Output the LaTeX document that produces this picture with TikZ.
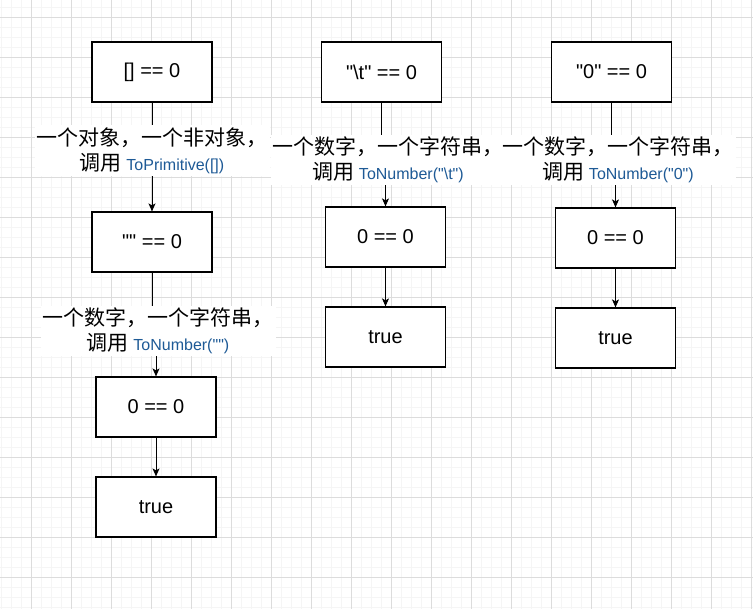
\documentclass[tikz,border=0pt]{standalone}
\usepackage{fontspec}
\setmainfont{Liberation Sans}[Ligatures=TeXOff]
\newfontfamily\cjk{Noto Sans CJK SC}
\usetikzlibrary{arrows.meta}
\definecolor{codeblue}{RGB}{30,90,150}
\definecolor{gridmajor}{RGB}{220,220,220}
\definecolor{gridminor}{RGB}{245,245,245}
\newcommand\codetxt[1]{{\rmfamily\color{codeblue}\fontsize{16}{25}\selectfont #1}}
\begin{document}
\begin{tikzpicture}[x=1pt,y=-1pt,
  box/.style={draw=black, line width=1.2pt, minimum width=120pt, minimum height=60pt,
    inner sep=0pt, font=\fontsize{20}{24}\selectfont, fill=white},
  conn/.style={line width=1pt, -{Stealth[length=8pt,width=7pt,inset=2pt]}},
  elabel/.style={fill=white, inner xsep=2pt, inner ysep=2pt, align=center,
    font=\cjk\fontsize{21}{25}\selectfont}
]
\useasboundingbox (0,0) rectangle (753,609);
\fill[white] (0,0) rectangle (753,609);
% grid
\foreach \i in {0,...,75} {\draw[gridminor, line width=0.8pt] ({1.7+10*\i},0) -- ({1.7+10*\i},609);}
\foreach \i in {0,...,60} {\draw[gridminor, line width=0.8pt] (0,{7.3+10*\i}) -- (753,{7.3+10*\i});}
\foreach \i in {0,...,18} {\draw[gridmajor, line width=1pt] ({31.7+40*\i},0) -- ({31.7+40*\i},609);}
\foreach \i in {0,...,14} {\draw[gridmajor, line width=1pt] (0,{17.3+40*\i}) -- (753,{17.3+40*\i});}

% boxes
\node[box] (b1) at (152,72) {[] == 0};
\node[box] (b2) at (152,242) {"" == 0};
\node[box] (b3) at (156,407) {0 == 0};
\node[box] (b4) at (156,507) {true};
\node[box] (b5) at (381.5,72) {"\textbackslash t" == 0};
\node[box] (b6) at (385.5,237) {0 == 0};
\node[box] (b7) at (385.5,337) {true};
\node[box] (b8) at (611.5,72) {"0" == 0};
\node[box] (b9) at (615.5,238) {0 == 0};
\node[box] (b10) at (615.5,338) {true};

% jog points
\coordinate (j1a) at (152,330);
\coordinate (j1b) at (156,330);
\coordinate (j2a) at (381.5,160);
\coordinate (j2b) at (385.5,160);
\coordinate (j3a) at (611.5,160);
\coordinate (j3b) at (615.5,160);

% connectors
\draw[conn] (b1.south) -- (b2.north);
\draw[conn] (b2.south) -- (j1a) -- (j1b) -- (b3.north);
\draw[conn] (b3.south) -- (b4.north);
\draw[conn] (b5.south) -- (j2a) -- (j2b) -- (b6.north);
\draw[conn] (b6.south) -- (b7.north);
\draw[conn] (b8.south) -- (j3a) -- (j3b) -- (b9.north);
\draw[conn] (b9.south) -- (b10.north);

% labels
\node[elabel] (l1) at (152,150.5) {一个对象，一个非对象，\\调用 \codetxt{ToPrimitive([])}};
\node[elabel] (l2) at (158,331) {一个数字，一个字符串，\\调用 \codetxt{ToNumber("")}};
\node[elabel] (l3) at (388,160) {一个数字，一个字符串，\\调用 \codetxt{ToNumber("\textbackslash t")}};
\node[elabel] (l4) at (618,160) {一个数字，一个字符串，\\调用 \codetxt{ToNumber("0")}};
\end{tikzpicture}
\end{document}
